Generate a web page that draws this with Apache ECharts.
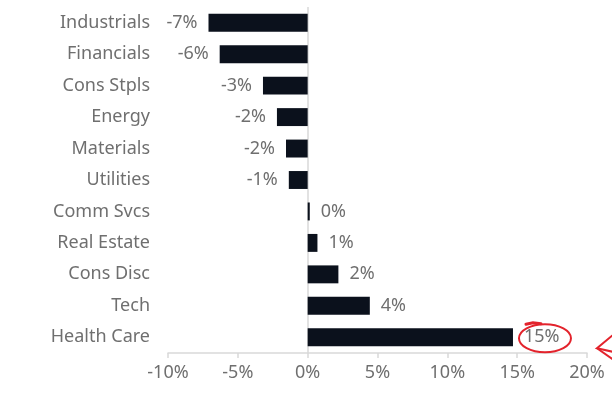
<!DOCTYPE html>
<html>
<head>
<meta charset="utf-8">
<script src="https://cdn.jsdelivr.net/npm/echarts@6/dist/echarts.min.js"></script>
<style>
  html, body { margin: 0; padding: 0; background: #fff; }
  #chart { width: 612px; height: 396px; }
</style>
</head>
<body>
<div id="chart"></div>
<script>
// Sector returns, top to bottom
const sectors = ['Industrials', 'Financials', 'Cons Stpls', 'Energy', 'Materials', 'Utilities',
                 'Comm Svcs', 'Real Estate', 'Cons Disc', 'Tech', 'Health Care'];
const returns = [-7.1, -6.3, -3.2, -2.2, -1.55, -1.35, 0.15, 0.7, 2.2, 4.45, 14.7];
const xTicks = { min: -10, max: 20, step: 5 };

const FONT = 'Noto Sans';
const TEXT = '#6f6f6f';
const AXIS = '#d9d9d9';
const BAR = '#0b111c';
const RED = '#e3232c';

const chart = echarts.init(document.getElementById('chart'), null, { renderer: 'canvas' });

const barData = returns.map(v => ({
  value: v,
  label: { position: v < 0 ? 'left' : 'right' }
}));

chart.setOption({
  animation: false,
  grid: { left: 168, right: 25, top: 7, bottom: 43, containLabel: false },
  xAxis: {
    type: 'value',
    min: xTicks.min, max: xTicks.max, interval: xTicks.step,
    axisLine: { show: true, lineStyle: { color: AXIS, width: 1.5 } },
    axisTick: { show: true, length: 5, lineStyle: { color: AXIS, width: 1.5 } },
    splitLine: { show: false },
    axisLabel: {
      formatter: v => v + '%',
      color: TEXT, fontFamily: FONT, fontSize: 18, margin: 11
    }
  },
  yAxis: {
    type: 'category',
    data: sectors,
    inverse: true,
    axisLine: { show: false, onZero: false },
    axisTick: { show: false },
    axisLabel: { color: TEXT, fontFamily: FONT, fontSize: 18, margin: 18 }
  },
  series: [{
    type: 'bar',
    data: barData,
    barCategoryGap: '43%',
    itemStyle: { color: BAR },
    label: {
      show: true,
      distance: 11,
      color: TEXT, fontFamily: FONT, fontSize: 18,
      formatter: p => Math.round(p.value) + '%'
    },
    markLine: {
      silent: true,
      z: 1,
      symbol: ['none', 'none'],
      label: { show: false },
      lineStyle: { color: AXIS, width: 1.5, type: 'solid' },
      data: [{ xAxis: 0 }]
    },
    z: 3
  }]
});

// Hand-drawn red highlight around the top performer and an arrow pointing at it
const best = returns.length - 1;
const anchor = chart.convertToPixel({ gridIndex: 0 }, [returns[best], sectors[best]]);
const cx = anchor[0] + 32, cy = anchor[1] + 1;
chart.setOption({
  graphic: [
    {
      type: 'ellipse',
      shape: { cx: cx, cy: cy, rx: 26, ry: 14 },
      style: { fill: 'none', stroke: RED, lineWidth: 2 },
      z: 10
    },
    {
      type: 'polyline',
      shape: { points: [[cx - 19, cy - 14], [cx - 12, cy - 15.5], [cx - 4, cy - 14.5]] },
      style: { stroke: RED, lineWidth: 3, fill: 'none', lineCap: 'round' },
      z: 10
    },
    {
      type: 'polyline',
      shape: { points: [[cx + 70, cy - 5], [cx + 52, cy + 10], [cx + 70, cy + 14]] },
      style: { stroke: RED, lineWidth: 2, fill: 'none' },
      z: 10
    },
    {
      type: 'line',
      shape: { x1: cx + 52, y1: cy + 10, x2: cx + 72, y2: cy + 24 },
      style: { stroke: RED, lineWidth: 2 },
      z: 10
    }
  ]
});
</script>
</body>
</html>
